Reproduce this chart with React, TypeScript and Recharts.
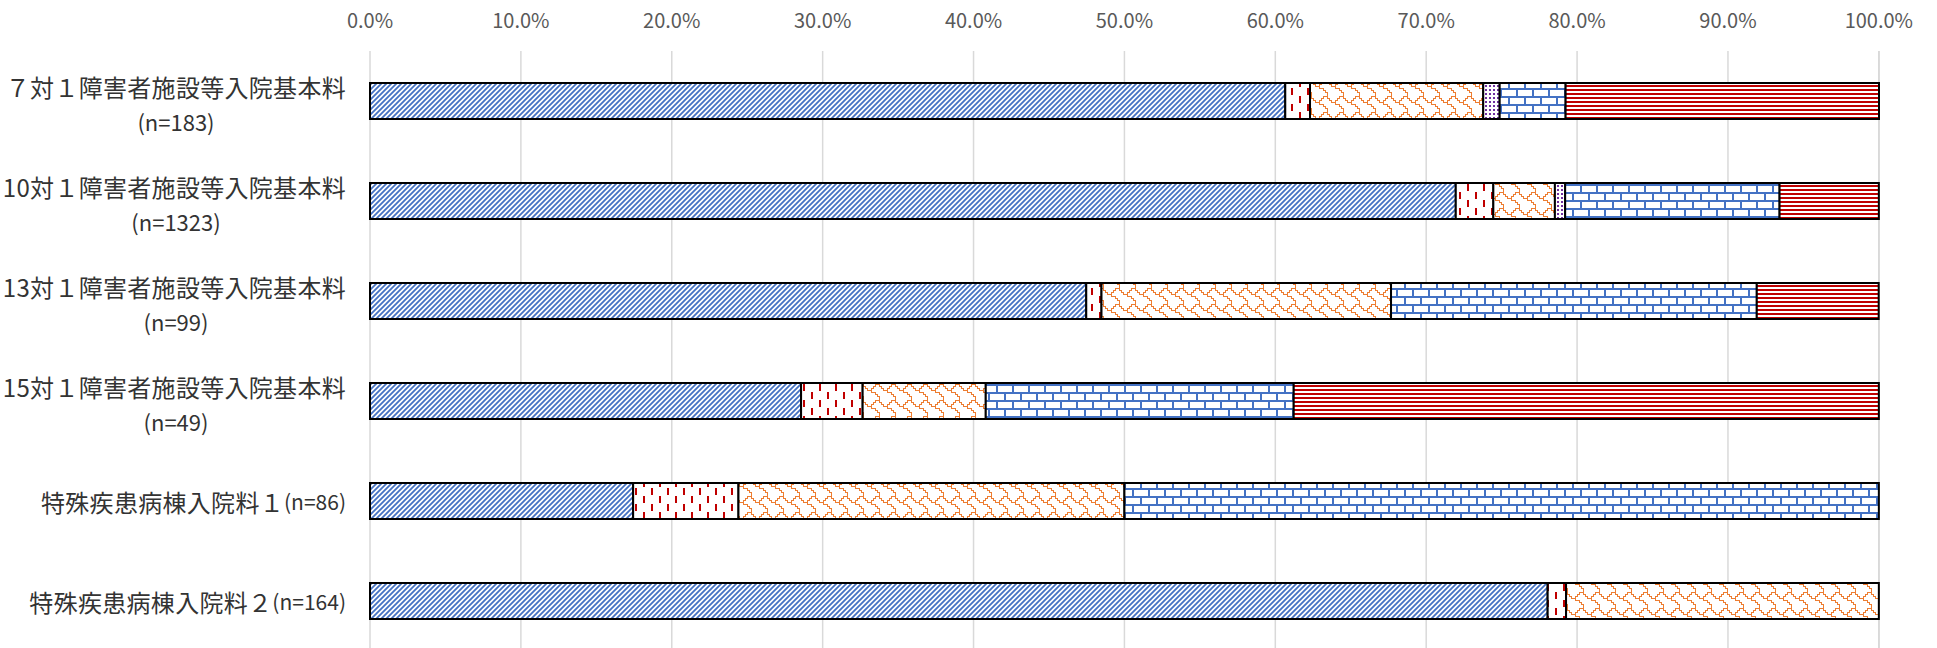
import { BarChart, Bar, XAxis, YAxis, CartesianGrid } from 'recharts';

const labels = [
  '７対１障害者施設等入院基本料',
  '10対１障害者施設等入院基本料',
  '13対１障害者施設等入院基本料',
  '15対１障害者施設等入院基本料',
  '特殊疾患病棟入院料１',
  '特殊疾患病棟入院料２',
];
const nLabels = ['(n=183)', '(n=1323)', '(n=99)', '(n=49)', '(n=86)', '(n=164)'];

// percentages per series, one entry per category
const s1 = [60.66, 71.96, 47.47, 28.57, 17.44, 78.05];
const s2 = [1.64, 2.49, 1.01, 4.08, 6.98, 1.22];
const s3 = [11.48, 4.08, 19.19, 8.16, 25.58, 20.73];
const s4 = [1.09, 0.68, 0, 0, 0, 0];
const s5 = [4.37, 14.21, 24.24, 20.41, 50.0, 0];
const s6 = [20.77, 6.58, 8.08, 38.78, 0, 0];

const xTicks = [0, 10, 20, 30, 40, 50, 60, 70, 80, 90, 100];

const data = labels.map((name, i) => ({
  name,
  s1: s1[i],
  s2: s2[i],
  s3: s3[i],
  s4: s4[i],
  s5: s5[i],
  s6: s6[i],
}));

const FONT = '"Noto Sans CJK JP", "Noto Sans", sans-serif';

const BLUE = '#4472C4';
const RED = '#C00000';
const ORANGE = '#ED7D31';
const PURPLE = '#7030A0';

// fill patterns, roughly the Excel hatch bitmaps
function Patterns() {
  return (
    <svg width={0} height={0} style={{ position: 'absolute' }}>
      <defs>
        <pattern id="pDiag" width={5} height={5} patternUnits="userSpaceOnUse">
          <rect width={5} height={5} fill="#fff" />
          <path d="M-1,6 L6,-1 M-1,1 L1,-1 M4,6 L6,4" stroke={BLUE} strokeWidth={1.8} />
        </pattern>
        <pattern id="pDash" width={16} height={16} patternUnits="userSpaceOnUse">
          <rect width={16} height={16} fill="#fff" />
          <g fill={RED} shapeRendering="crispEdges">
            <rect x={3} y={0} width={2} height={7} />
            <rect x={11} y={8} width={2} height={7} />
          </g>
        </pattern>
        <pattern id="pShingle" width={16} height={16} patternUnits="userSpaceOnUse">
          <rect width={16} height={16} fill="#fff" />
          <path
            d="M-0.5,0.5 V2.5 H1.5 V4.5 H3.5 V6.5 H7.5 V4.5 H9.5 V2.5 H11.5 V0.5 H15.5 V2.5 H16.5 M7.5,6.5 V8.5 H11.5 V10.5 H13.5 V12.5 H15.5 V16.5 M15.5,-0.5 V0.5"
            stroke={ORANGE}
            strokeWidth={1.2}
            fill="none"
            shapeRendering="crispEdges"
          />
        </pattern>
        <pattern id="pDots" width={4} height={4} patternUnits="userSpaceOnUse">
          <rect width={4} height={4} fill="#fff" />
          <rect x={1} y={1} width={2} height={2} fill={PURPLE} shapeRendering="crispEdges" />
        </pattern>
        <pattern id="pBrick" width={16} height={16} patternUnits="userSpaceOnUse">
          <rect width={16} height={16} fill="#fff" />
          <g fill={BLUE} shapeRendering="crispEdges">
            <rect x={0} y={0} width={16} height={2} />
            <rect x={0} y={8} width={16} height={2} />
            <rect x={4} y={0} width={2} height={8} />
            <rect x={12} y={8} width={2} height={8} />
          </g>
        </pattern>
        <pattern id="pHoriz" width={4} height={4} patternUnits="userSpaceOnUse">
          <rect width={4} height={4} fill="#fff" />
          <rect x={0} y={1} width={4} height={2} fill={RED} shapeRendering="crispEdges" />
        </pattern>
      </defs>
    </svg>
  );
}

function PctTick(props: any) {
  const { x, y, payload } = props;
  return (
    <text x={x} y={y - 32} textAnchor="middle" dominantBaseline="central" fontSize={20} fill="#595959" fontFamily={FONT}>
      {Number(payload.value).toFixed(1)}%
    </text>
  );
}

function CatTick(props: any) {
  const { x, y, payload } = props;
  const i = labels.indexOf(payload.value);
  const right = x - 24;
  if (i < 4) {
    return (
      <g fontFamily={FONT} fill="#333">
        <text x={right} y={y - 15} textAnchor="end" dominantBaseline="central" fontSize={24} letterSpacing={0.3}>
          {labels[i]}
        </text>
        <text x={right - 170} y={y + 20} textAnchor="middle" dominantBaseline="central" fontSize={22}>
          {nLabels[i]}
        </text>
      </g>
    );
  }
  return (
    <text x={right} y={y} textAnchor="end" dominantBaseline="central" fontSize={24} letterSpacing={0.3} fill="#333" fontFamily={FONT}>
      {labels[i]}
      <tspan fontSize={21} letterSpacing={0}>{nLabels[i]}</tspan>
    </text>
  );
}

export default function App() {
  return (
    <div style={{ position: 'absolute', left: 0, top: 0, background: '#fff' }}>
      <Patterns />
      <BarChart
        width={1937}
        height={661}
        data={data}
        layout="vertical"
        margin={{ top: 0, right: 58, bottom: 10, left: 0 }}
        barSize={36}
      >
        <CartesianGrid horizontal={false} stroke="#d9d9d9" strokeWidth={1.5} />
        <XAxis
          type="number"
          orientation="top"
          domain={[0, 100]}
          ticks={xTicks}
          height={51}
          axisLine={false}
          tickLine={false}
          tickSize={0}
          tickMargin={0}
          tick={<PctTick />}
          interval={0}
        />
        <YAxis
          type="category"
          dataKey="name"
          width={370}
          axisLine={false}
          tickLine={false}
          tickSize={0}
          tickMargin={0}
          tick={<CatTick />}
          interval={0}
        />
        <Bar dataKey="s1" stackId="a" fill="url(#pDiag)" stroke="#000" strokeWidth={2} isAnimationActive={false} />
        <Bar dataKey="s2" stackId="a" fill="url(#pDash)" stroke="#000" strokeWidth={2} isAnimationActive={false} />
        <Bar dataKey="s3" stackId="a" fill="url(#pShingle)" stroke="#000" strokeWidth={2} isAnimationActive={false} />
        <Bar dataKey="s4" stackId="a" fill="url(#pDots)" stroke="#000" strokeWidth={2} isAnimationActive={false} />
        <Bar dataKey="s5" stackId="a" fill="url(#pBrick)" stroke="#000" strokeWidth={2} isAnimationActive={false} />
        <Bar dataKey="s6" stackId="a" fill="url(#pHoriz)" stroke="#000" strokeWidth={2} isAnimationActive={false} />
      </BarChart>
    </div>
  );
}
